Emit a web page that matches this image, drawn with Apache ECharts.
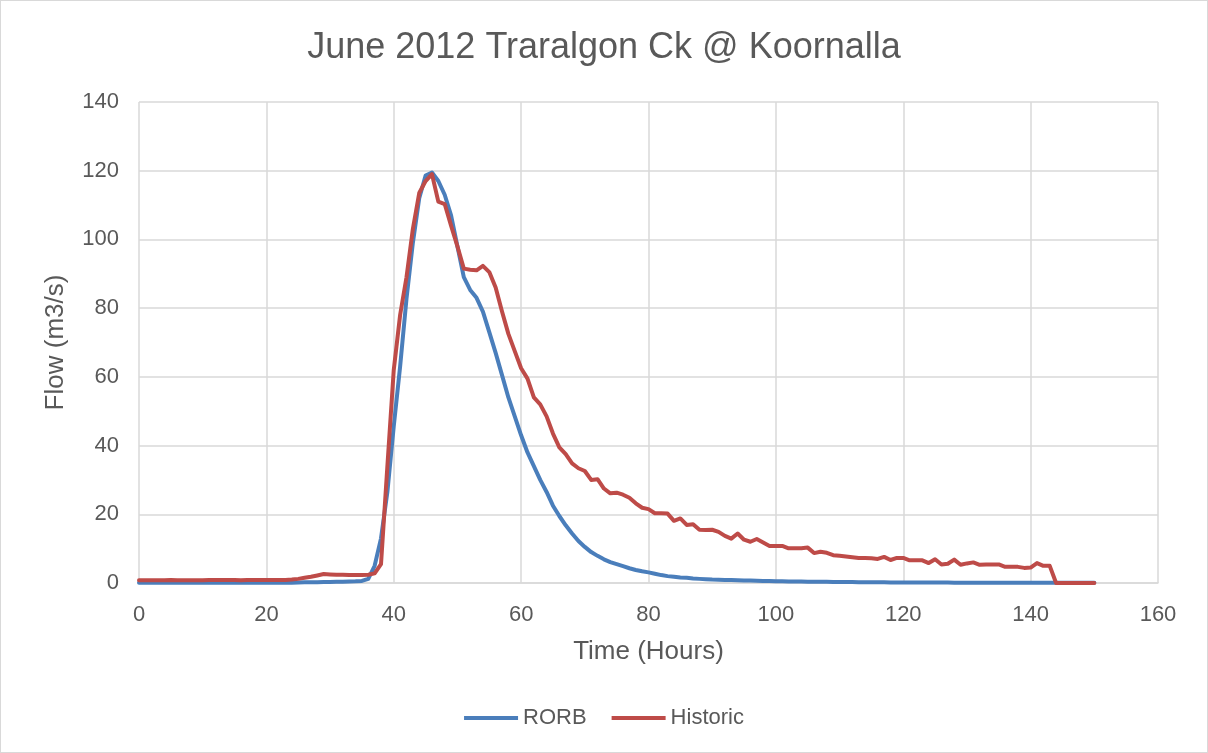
<!DOCTYPE html>
<html>
<head>
<meta charset="utf-8">
<script src="https://cdn.jsdelivr.net/npm/echarts@6/dist/echarts.min.js"></script>
<style>
  html, body { margin: 0; padding: 0; background: #ffffff; }
  #chart { width: 1208px; height: 753px; box-sizing: border-box; border: 1px solid #d9d9d9; }
</style>
</head>
<body>
<div id="chart"></div>
<script>
// Hydrograph: modelled (RORB) vs recorded (Historic) flow, one value per hour from 0 to 150 h
const chartTitle = 'June 2012 Traralgon Ck @ Koornalla';
const seriesNames = ['RORB', 'Historic'];
const xAxisTitle = 'Time (Hours)';
const yAxisTitle = 'Flow (m3/s)';

const rorb = [
  0.1, 0.1, 0.1, 0.1, 0.1, 0.1, 0.1, 0.1, 0.1, 0.1,
  0.1, 0.1, 0.1, 0.1, 0.1, 0.1, 0.1, 0.1, 0.1, 0.1,
  0.1, 0.1, 0.1, 0.1, 0.1, 0.15, 0.2, 0.2, 0.25, 0.3,
  0.3, 0.35, 0.4, 0.45, 0.5, 0.6, 1.2, 5, 13, 26.5,
  45.6, 63, 82.7, 99, 112, 118.6, 119.5, 117, 113, 107,
  98, 89, 85.3, 83, 79, 73, 67, 60.5, 54, 48.5,
  43, 38, 34, 30, 26.5, 22.5, 19.5, 16.8, 14.4, 12.2,
  10.5, 9, 7.9, 6.9, 6.1, 5.5, 4.9, 4.3, 3.8, 3.4,
  3.1, 2.7, 2.3, 2.0, 1.8, 1.6, 1.5, 1.3, 1.2, 1.1,
  1.0, 0.95, 0.9, 0.85, 0.8, 0.75, 0.7, 0.65, 0.6, 0.55,
  0.5, 0.48, 0.46, 0.44, 0.42, 0.4, 0.38, 0.36, 0.34, 0.32,
  0.3, 0.28, 0.26, 0.25, 0.24, 0.22, 0.2, 0.19, 0.18, 0.17,
  0.16, 0.15, 0.15, 0.14, 0.13, 0.12, 0.12, 0.11, 0.1, 0.1,
  0.1, 0.09, 0.09, 0.08, 0.08, 0.08, 0.07, 0.07, 0.07, 0.06,
  0.06, 0.06, 0.05, 0.05, 0.05, 0.05, 0.05, 0.04, 0.04, 0.04, 0.04
];

const historic = [
  0.8, 0.8, 0.8, 0.8, 0.8, 0.9, 0.8, 0.8, 0.8, 0.8,
  0.8, 0.9, 0.9, 0.9, 0.9, 0.9, 0.8, 0.9, 0.9, 0.9,
  0.9, 0.9, 0.9, 0.9, 1.0, 1.2, 1.5, 1.8, 2.2, 2.6,
  2.5, 2.4, 2.4, 2.3, 2.3, 2.3, 2.4, 2.8, 5.5, 34,
  62, 78, 89, 103, 113.5, 117, 119, 111, 110.3, 104,
  98, 91.5, 91.2, 91, 92.3, 90.5, 86, 79, 72.5, 67.5,
  62.5, 59.5, 54, 52, 48.5, 43.5, 39.5, 37.5, 34.8, 33.4,
  32.6, 30, 30.2, 27.5, 26.1, 26.3, 25.7, 24.8, 23.2, 21.9,
  21.5, 20.3, 20.3, 20.2, 18.1, 18.8, 16.9, 17.1, 15.5, 15.4,
  15.5, 14.9, 13.7, 12.9, 14.4, 12.6, 12.0, 12.8, 11.8, 10.8,
  10.8, 10.8, 10.1, 10.1, 10.1, 10.3, 8.7, 9.1, 8.8, 8.1,
  7.9, 7.7, 7.5, 7.3, 7.3, 7.2, 7.0, 7.6, 6.7, 7.3,
  7.3, 6.6, 6.6, 6.6, 5.8, 6.9, 5.4, 5.6, 6.8, 5.3,
  5.7, 6.0, 5.3, 5.4, 5.4, 5.4, 4.7, 4.7, 4.7, 4.4,
  4.5, 5.8, 5.0, 5.0, 0, 0, 0, 0, 0, 0, 0
];

// hour index -> [hour, flow]
const toPairs = arr => arr.map((v, h) => [h, v]);

const textColor = '#595959';
const gridColor = '#d9d9d9';
const blue = '#4a7ebb';
const red = '#be4b48';
const fontFamily = '"Liberation Sans", Arial, sans-serif';

const chart = echarts.init(document.getElementById('chart'), null, { renderer: 'canvas' });

chart.setOption({
  animation: false,
  backgroundColor: '#ffffff',
  textStyle: { fontFamily: fontFamily, color: textColor },
  title: {
    text: chartTitle,
    left: 'center',
    top: 24,
    textStyle: { fontFamily: fontFamily, fontSize: 36, fontWeight: 'normal', color: textColor }
  },
  legend: {
    data: seriesNames.map(n => ({ name: n, icon: 'rect' })),
    bottom: 18,
    left: 'center',
    itemWidth: 54,
    itemHeight: 4,
    itemGap: 25,
    textStyle: { fontFamily: fontFamily, fontSize: 22, color: textColor }
  },
  grid: {
    left: 138,
    right: 49,
    top: 101,
    bottom: 169,
    containLabel: false,
    outerBoundsMode: 'none'
  },
  xAxis: {
    type: 'value',
    min: 0,
    max: 160,
    interval: 20,
    name: xAxisTitle,
    nameLocation: 'middle',
    nameGap: 56,
    nameTextStyle: { fontFamily: fontFamily, fontSize: 26, color: textColor },
    axisLine: { show: true, lineStyle: { color: gridColor, width: 1.5 } },
    axisTick: { show: false },
    axisLabel: { fontFamily: fontFamily, fontSize: 22, color: textColor, margin: 21 },
    splitLine: { show: true, lineStyle: { color: gridColor, width: 1.5 } }
  },
  yAxis: {
    type: 'value',
    min: 0,
    max: 140,
    interval: 20,
    name: yAxisTitle,
    nameLocation: 'middle',
    nameGap: 70,
    nameRotate: 90,
    nameTextStyle: { fontFamily: fontFamily, fontSize: 26, color: textColor },
    axisLine: { show: false },
    axisTick: { show: false },
    axisLabel: { fontFamily: fontFamily, fontSize: 22, color: textColor, margin: 20 },
    splitLine: { show: true, lineStyle: { color: gridColor, width: 1.5 } }
  },
  series: [
    {
      name: seriesNames[0],
      type: 'line',
      data: toPairs(rorb),
      symbol: 'none',
      smooth: false,
      itemStyle: { color: blue },
      lineStyle: { color: blue, width: 4, cap: 'round', join: 'round' }
    },
    {
      name: seriesNames[1],
      type: 'line',
      data: toPairs(historic),
      symbol: 'none',
      smooth: false,
      itemStyle: { color: red },
      lineStyle: { color: red, width: 4, cap: 'round', join: 'round' }
    }
  ]
});
</script>
</body>
</html>
